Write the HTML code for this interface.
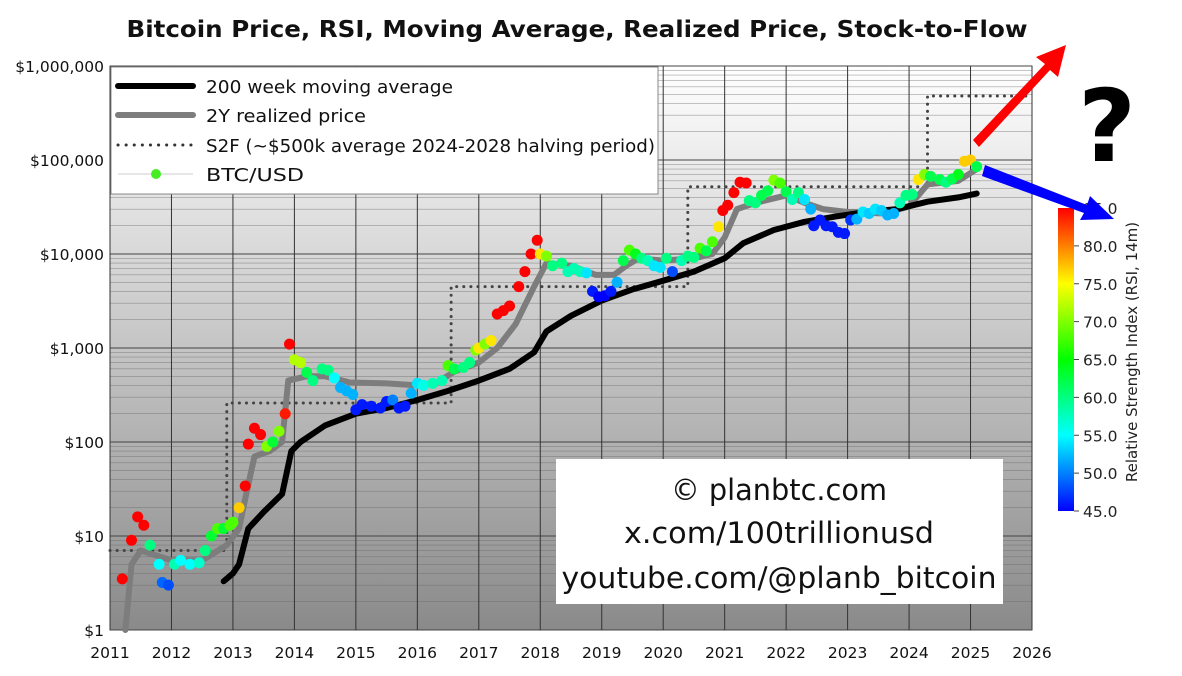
<!DOCTYPE html>
<html><head><meta charset="utf-8"><style>
body{margin:0;background:#fff;width:1182px;height:672px;overflow:hidden;font-family:"DejaVu Sans","Liberation Sans",sans-serif}
svg text{font-family:"DejaVu Sans","Liberation Sans",sans-serif}
</style></head><body>
<svg id="c" width="1182" height="672" xmlns="http://www.w3.org/2000/svg">
<defs>
<linearGradient id="bg" x1="0" y1="0" x2="0" y2="1"><stop offset="0" stop-color="#ffffff"/><stop offset="1" stop-color="#8a8a8a"/></linearGradient>
<linearGradient id="cb" x1="0" y1="1" x2="0" y2="0">
<stop offset="0" stop-color="#0000ff"/><stop offset="0.125" stop-color="#0080ff"/><stop offset="0.25" stop-color="#00ffff"/><stop offset="0.375" stop-color="#00ff80"/><stop offset="0.5" stop-color="#00ff00"/><stop offset="0.625" stop-color="#80ff00"/><stop offset="0.75" stop-color="#ffff00"/><stop offset="0.875" stop-color="#ff8000"/><stop offset="1" stop-color="#ff0000"/></linearGradient>
</defs>
</svg>
<script>
const btcDates=[2011.2,2011.35,2011.45,2011.55,2011.65,2011.8,2011.85,2011.95,2012.05,2012.15,2012.3,2012.45,2012.55,2012.65,2012.75,2012.85,2012.95,2013.0,2013.1,2013.2,2013.25,2013.35,2013.45,2013.55,2013.65,2013.75,2013.85,2013.92,2014.0,2014.1,2014.2,2014.3,2014.45,2014.55,2014.65,2014.75,2014.85,2014.95,2015.0,2015.1,2015.25,2015.4,2015.5,2015.6,2015.7,2015.8,2015.9,2016.0,2016.1,2016.25,2016.4,2016.5,2016.6,2016.75,2016.85,2016.95,2017.0,2017.1,2017.2,2017.3,2017.4,2017.5,2017.65,2017.75,2017.85,2017.95,2018.0,2018.1,2018.2,2018.35,2018.45,2018.55,2018.65,2018.75,2018.85,2018.95,2019.05,2019.15,2019.25,2019.35,2019.45,2019.55,2019.65,2019.75,2019.85,2019.95,2020.05,2020.15,2020.3,2020.4,2020.5,2020.6,2020.7,2020.8,2020.9,2020.97,2021.05,2021.15,2021.25,2021.35,2021.4,2021.5,2021.6,2021.7,2021.8,2021.9,2022.0,2022.1,2022.2,2022.3,2022.4,2022.45,2022.55,2022.65,2022.75,2022.85,2022.95,2023.05,2023.15,2023.25,2023.35,2023.45,2023.55,2023.65,2023.75,2023.85,2023.95,2024.05,2024.15,2024.25,2024.35,2024.5,2024.6,2024.7,2024.8,2024.9,2025.0,2025.1];
const btcPrice=[3.5,9,16,13,8,5,3.2,3,5,5.5,5,5.2,7,10,12,12,13,14,20,34,95,140,120,90,100,130,200,1100,750,700,550,450,600,580,480,380,350,320,220,250,240,230,270,280,230,240,330,420,400,420,450,650,600,620,700,950,1000,1100,1200,2300,2500,2800,4500,6500,10000,14000,10000,9500,7500,8000,6500,7000,6500,6300,4000,3500,3600,4000,5000,8500,11000,10000,9000,8500,7500,7200,9000,6500,8500,9500,9200,11500,10800,13500,19500,29000,33000,45000,58000,57000,37000,35000,42000,47000,61000,57000,46000,38000,45000,38000,30000,20000,23000,20000,19500,17000,16500,23000,23500,28000,27000,30000,29000,26000,27000,35000,42000,43000,62000,70000,67000,62000,58000,63000,70000,97000,100000,85000];
const btcRsi=[85,85,85,85,60,55,49,48,58,55,55,57,60,63,68,63,68,68,77,85,85,85,85,70,63,70,84,85,72,72,62,60,60,60,55,52,52,52,46,46,46,46,46,50,46,46,52,54,56,58,58,68,62,60,60,70,76,70,76,85,85,85,85,85,85,85,76,70,60,60,58,58,58,54,46,45,45,46,52,62,68,64,60,58,54,54,60,48,58,60,60,68,62,68,76,85,85,85,85,85,60,60,62,62,70,68,62,58,60,54,52,46,46,46,46,46,46,47,52,54,53,54,53,52,52,58,60,60,76,70,62,62,60,62,64,77,77,62];
const wmaDates=[2012.85,2013.0,2013.1,2013.25,2013.5,2013.8,2013.95,2014.1,2014.5,2015.0,2015.5,2016.0,2016.5,2017.0,2017.5,2017.9,2018.1,2018.5,2019.0,2019.5,2020.0,2020.5,2021.0,2021.3,2021.8,2022.3,2022.8,2023.3,2023.8,2024.3,2024.8,2025.1];
const wmaValues=[3.3,4,5,12,18,28,80,100,150,200,230,280,350,450,600,900,1500,2200,3200,4200,5200,6500,9000,13000,18000,22000,25000,28000,30000,36000,40000,44000];
const rpDates=[2011.25,2011.35,2011.5,2012.0,2012.5,2012.9,2013.1,2013.2,2013.35,2013.6,2013.8,2013.9,2014.2,2014.5,2014.9,2015.5,2016.0,2016.3,2016.6,2017.0,2017.3,2017.6,2017.9,2018.1,2018.5,2018.9,2019.2,2019.4,2019.6,2020.0,2020.5,2020.8,2021.0,2021.2,2021.5,2022.0,2022.3,2022.6,2023.0,2023.6,2024.0,2024.3,2024.8,2025.1];
const rpValues=[1,5,7,5.5,5.5,8,12,25,70,80,100,450,500,500,430,420,400,420,560,700,1000,1800,4500,8000,7500,6000,6000,7500,9000,8500,9000,10000,15000,30000,35000,42000,35000,30000,28000,27000,32000,55000,60000,80000];
const s2fStarts=[2011.0,2012.9,2016.55,2020.4,2024.3];
const s2fEnds=[2012.9,2016.55,2020.4,2024.3,2026.0];
const s2fValues=[7,260,4500,52000,480000];
const yTicks=[1,10,100,1000,10000,100000,1000000];
const yTickLabels=["$1","$10","$100","$1,000","$10,000","$100,000","$1,000,000"];
const xTicks=[2011,2012,2013,2014,2015,2016,2017,2018,2019,2020,2021,2022,2023,2024,2025,2026];
const cbTicks=[45,50,55,60,65,70,75,80,85];

const L=110,R=1032,T=66,B=630;
const x=d=>L+(d-2011)/15*(R-L);
const y=v=>B-(Math.log10(v))/6*(B-T);
const svg=document.getElementById('c');
const NS='http://www.w3.org/2000/svg';
function mk(tag,attrs,parent){const e=document.createElementNS(NS,tag);for(const k in attrs)e.setAttribute(k,attrs[k]);(parent||svg).appendChild(e);return e;}
function rsiColor(r){const t=Math.max(0,Math.min(1,(r-45)/40));return 'hsl('+(240*(1-t))+',100%,50%)';}

let e=mk('rect',{x:L,y:T,width:R-L,height:B-T,fill:'url(#bg)',stroke:'#555'});

const grid=mk('g',{});

for(let d=0;d<6;d++){for(let m=2;m<10;m++){const v=m*Math.pow(10,d);mk('line',{x1:L,x2:R,y1:y(v),y2:y(v),stroke:'#666','stroke-width':0.6,opacity:0.6},grid);}}
yTicks.forEach(v=>mk('line',{x1:L,x2:R,y1:y(v),y2:y(v),stroke:'#444','stroke-width':1},grid));
xTicks.forEach(d=>mk('line',{x1:x(d),x2:x(d),y1:T,y2:B,stroke:'#333','stroke-width':1},grid));
yTicks.forEach((v,i)=>{const t=mk('text',{x:L-6,y:y(v)+6,'text-anchor':'end','font-size':15.5,fill:'#111'});t.textContent=yTickLabels[i];
});
xTicks.forEach(d=>{const t=mk('text',{x:x(d),y:B+28,'text-anchor':'middle','font-size':15.5,fill:'#111'});t.textContent=d;
});

let sp='';s2fValues.forEach((v,i)=>{sp+=(i?'L':'M')+x(s2fStarts[i])+' '+y(v)+' L'+x(s2fEnds[i])+' '+y(v)+' ';});
e=mk('path',{d:sp,fill:'none',stroke:'#444','stroke-width':3,'stroke-dasharray':'0.1 7','stroke-linecap':'round'});

e=mk('path',{d:rpDates.map((d,i)=>(i?'L':'M')+x(d)+' '+y(rpValues[i])).join(' '),fill:'none',stroke:'#7d7d7d','stroke-width':6,'stroke-linejoin':'round','stroke-linecap':'round'});

e=mk('path',{d:wmaDates.map((d,i)=>(i?'L':'M')+x(d)+' '+y(wmaValues[i])).join(' '),fill:'none',stroke:'#000','stroke-width':6,'stroke-linejoin':'round','stroke-linecap':'round'});

const pts=mk('g',{});

btcDates.forEach((d,i)=>{const c=mk('circle',{cx:x(d),cy:y(btcPrice[i]),r:5.5,fill:rsiColor(btcRsi[i])},pts);
});

const lg=mk('g',{});

mk('rect',{x:L+1,y:T+1,width:547,height:127,fill:'#fff',stroke:'#888'},lg);
mk('line',{x1:118,x2:193,y1:86,y2:86,stroke:'#000','stroke-width':6,'stroke-linecap':'round'},lg);
mk('line',{x1:118,x2:193,y1:115,y2:115,stroke:'#7d7d7d','stroke-width':6,'stroke-linecap':'round'},lg);
mk('line',{x1:118,x2:193,y1:145,y2:145,stroke:'#333','stroke-width':3,'stroke-dasharray':'0.1 8','stroke-linecap':'round'},lg);
mk('line',{x1:118,x2:193,y1:174,y2:174,stroke:'#ccc','stroke-width':1},lg);
mk('circle',{cx:156,cy:174,r:5,fill:'#44ee22'},lg);
[['200 week moving average',93,247],['2Y realized price',122,160],['S2F (~$500k average 2024-2028 halving period)',152,449],['BTC/USD',181,98]].forEach(a=>{const t=mk('text',{x:206,y:a[1],'font-size':18,fill:'#111',textLength:a[2],lengthAdjust:'spacingAndGlyphs'},lg);t.textContent=a[0];
});

const wb=mk('g',{});

mk('rect',{x:556,y:459,width:447,height:145,fill:'#fff'},wb);
[['© planbtc.com',500,216],['x.com/100trillionusd',543,310],['youtube.com/@planb_bitcoin',588,435]].forEach(a=>{const t=mk('text',{x:779,y:a[1],'text-anchor':'middle','font-size':29,fill:'#111',textLength:a[2],lengthAdjust:'spacingAndGlyphs'},wb);t.textContent=a[0];
});

e=mk('text',{x:577,y:37,'text-anchor':'middle','font-size':23,'font-weight':'bold',fill:'#111',textLength:901,lengthAdjust:'spacingAndGlyphs'});e.textContent='Bitcoin Price, RSI, Moving Average, Realized Price, Stock-to-Flow';


e=mk('rect',{x:1058,y:208,width:16,height:303,fill:'url(#cb)'});

cbTicks.forEach(v=>{const yy=511-(v-45)/40*303;mk('line',{x1:1074,x2:1079,y1:yy,y2:yy,stroke:'#444'});
const t=mk('text',{x:1083,y:yy+6,'font-size':15.5,fill:'#222'});t.textContent=v.toFixed(1);
});
e=mk('text',{x:0,y:0,'font-size':15,fill:'#222','text-anchor':'middle',transform:'translate(1137,352) rotate(-90)'});e.textContent='Relative Strength Index (RSI, 14m)';


e=mk('polygon',{points:'973,140 1045,64 1036,57 1066,45 1058,77 1050,70 979,147',fill:'#ff0000'});

e=mk('polygon',{points:'985,165 1087,205 1090,196 1114,219 1080,220 1084,213 982,176',fill:'#0000ff'});

e=mk('text',{x:1107,y:161,'text-anchor':'middle','font-size':100,'font-weight':'bold',fill:'#000'});e.textContent='?';

</script>
</body></html>
